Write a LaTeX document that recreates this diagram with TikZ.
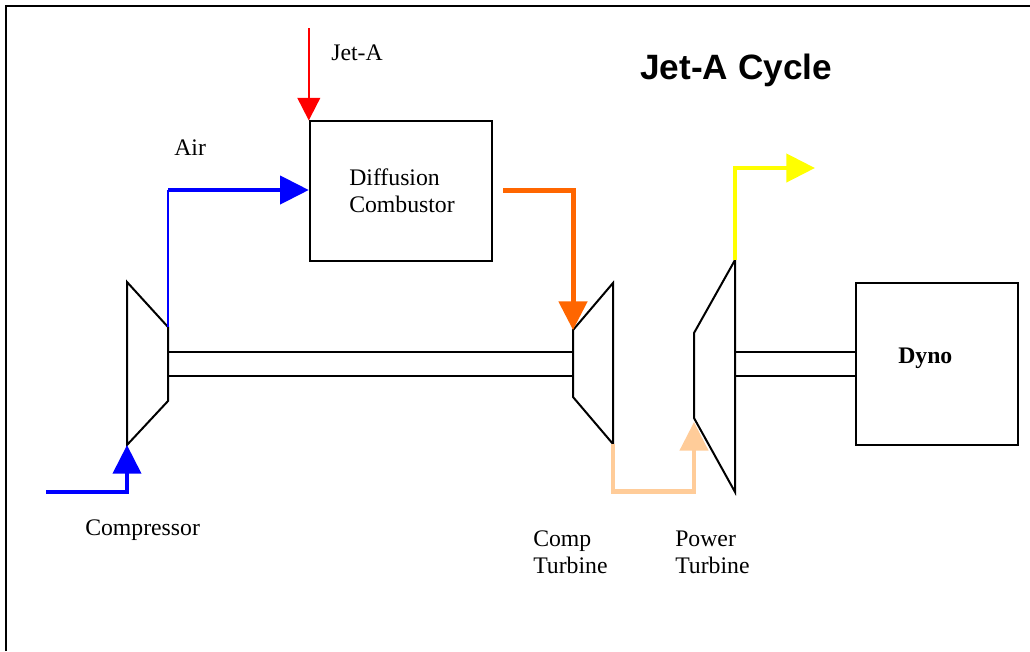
\documentclass[tikz,border=0pt]{standalone}
\usepackage{fontspec}
\setmainfont{Liberation Serif}
\newfontfamily\titlefont{Liberation Sans}
\usepackage{tikz}
\usetikzlibrary{arrows.meta, positioning, calc}
\usepackage{xcolor}
\definecolor{fuelred}{RGB}{255,0,0}
\definecolor{airblue}{RGB}{0,0,255}
\definecolor{hotorange}{RGB}{255,102,0}
\definecolor{peach}{RGB}{255,204,153}
\definecolor{exhaust}{RGB}{255,255,0}
\tikzset{
  flow/.style={-{Triangle[length=21.5pt,width=21pt]}},
  box/.style={draw=black, line width=1.5pt, inner sep=0pt},
  turbo/.style={draw=black, line width=1.5pt, line join=miter},
  shaft/.style={draw=black, line width=1.5pt},
  lbl/.style={inner sep=0pt, align=left, font=\fontsize{17.8}{20.25}\selectfont},
}
\begin{document}
\begin{tikzpicture}[x=0.75pt, y=-0.75pt]
  \useasboundingbox (0,0) rectangle (1030,651);
  % frame
  \coordinate (fa) at (6,651);
  \coordinate (fb) at (6,6);
  \coordinate (fc) at (1030,6);
  \draw[line width=1.6pt] (fa) -- (fb) -- (fc);

  % boxes
  \node[box, minimum width=136.5pt, minimum height=104.6pt] (comb) at (400.8,191.2) {};
  \node[box, minimum width=121.5pt, minimum height=121.2pt] (dyno) at (936.9,364.2) {};

  % compressor and turbines
  \draw[turbo] (127,282) coordinate (ca) -- (168,327) coordinate (cb) -- (168,401) coordinate (cc) -- (127,445) coordinate (cd) -- cycle;
  \draw[turbo] (573,330) coordinate (ta) -- (613,283) coordinate (tb) -- (613,444) coordinate (tc) -- (573,397) coordinate (td) -- cycle;
  \draw[turbo] (694,333) coordinate (pa) -- (735,260) coordinate (pb) -- (735,492) coordinate (pc) -- (694,418) coordinate (pd) -- cycle;

  % shafts
  \draw[shaft] (168,352) -- (573,352);
  \draw[shaft] (168,375.5) -- (573,375.5);
  \draw[shaft] (735,352) -- (dyno.west |- 0,352);
  \draw[shaft] (735,375.5) -- (dyno.west |- 0,375.5);

  % flows
  \coordinate (fueltop) at (comb.north west |- 0,28);
  \draw[-{Triangle[length=17pt,width=17pt]}, fuelred, line width=1.5pt] (fueltop) -- (comb.north west);

  \coordinate (inlet) at (46,491.5);
  \draw[flow, airblue, line width=3pt] (inlet) -| (cd);

  \coordinate (aircorner) at (168,190);
  \draw[airblue, line width=1.5pt] (cb) -- (aircorner);
  \draw[flow, airblue, line width=3pt] (aircorner) -- (comb.west |- aircorner);

  \coordinate (hotout) at (503,190);
  \draw[flow, hotorange, line width=3.75pt] (hotout) -| (ta);

  \coordinate (lowa) at (613,491.5);
  \coordinate (lowb) at (694,422);
  \draw[flow, peach, line width=3.4pt] (tc) |- (lowa) -| (lowb);

  \coordinate (stackend) at (815,168);
  \draw[flow, exhaust, line width=3.2pt] (pb) |- (stackend);

  % labels
  \node[lbl, anchor=base west] (fuellbl) at (331,60) {Jet-A};
  \node[lbl, anchor=base west] (airlbl) at (174,155) {Air};
  \node[lbl, anchor=west] (comblbl) at (349,190.5) {Diffusion\\Combustor};
  \node[lbl, anchor=base west] (complbl) at (85,535) {Compressor};
  \node[lbl, anchor=west] (ctlbl) at (533,552.5) {Comp\\Turbine};
  \node[lbl, anchor=west] (ptlbl) at (675,552.5) {Power\\Turbine};
  \node[lbl, anchor=base west] (dynolbl) at (898,363) {\textbf{Dyno}};
  \node[inner sep=0pt, anchor=base west, font=\titlefont\bfseries\fontsize{26.4}{30}\selectfont] (title) at (640,79) {Jet-A Cycle};
\end{tikzpicture}
\end{document}
